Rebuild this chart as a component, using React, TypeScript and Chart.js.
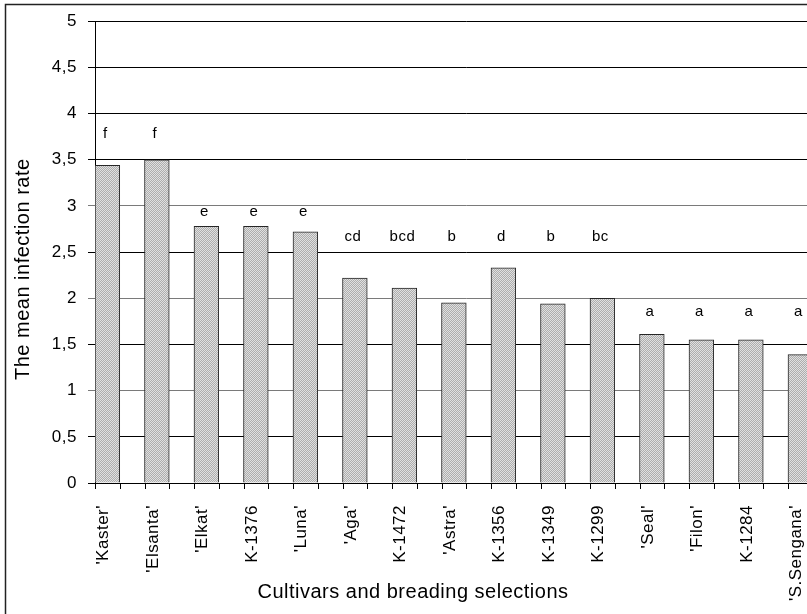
import React, { useEffect, useRef } from "react";
import { Chart, registerables } from "chart.js";

Chart.register(...registerables);

// Cultivars and breeding selections, in plotted order
const cultivars = [
  "'Kaster'",
  "'Elsanta'",
  "'Elkat'",
  "K-1376",
  "'Luna'",
  "'Aga'",
  "K-1472",
  "'Astra'",
  "K-1356",
  "K-1349",
  "K-1299",
  "'Seal'",
  "'Filon'",
  "K-1284",
  "'S.Sengana'",
];

// Mean infection rate per cultivar
const infectionRate = [3.44, 3.5, 2.78, 2.78, 2.72, 2.22, 2.11, 1.95, 2.33, 1.94, 2.0, 1.61, 1.55, 1.55, 1.39];

// Homogeneous-group letters and the level they are printed at
const groupLetters = ["f", "f", "e", "e", "e", "cd", "bcd", "b", "d", "b", "bc", "a", "a", "a", "a"];
const letterLevel = [3.78, 3.78, 2.94, 2.94, 2.94, 2.66, 2.66, 2.66, 2.66, 2.66, 2.66, 1.85, 1.85, 1.85, 1.85];

// Y axis range and step
const yMin = 0;
const yMax = 5;
const yStep = 0.5;

const FONT = "'Liberation Sans', Arial, sans-serif";

// Fine grey hatch used to fill the bars
function makeHatch(): CanvasPattern | string {
  const c = document.createElement("canvas");
  c.width = 4;
  c.height = 4;
  const g = c.getContext("2d");
  if (!g) return "#c6c6c6";
  g.fillStyle = "#e0e0e0";
  g.fillRect(0, 0, 4, 4);
  g.fillStyle = "#adadad";
  for (let y = 0; y < 4; y++) {
    g.fillRect((3 - y + 4) % 4, y, 1, 1);
    g.fillRect((5 - y) % 4, y, 1, 1);
  }
  return g.createPattern(c, "repeat") || "#c6c6c6";
}

// White background and the outer frame
const framePlugin = {
  id: "frame",
  beforeDraw(chart: any) {
    const { ctx, width, height } = chart;
    ctx.save();
    ctx.fillStyle = "#fff";
    ctx.fillRect(0, 0, width, height);
    ctx.strokeStyle = "#222";
    ctx.lineWidth = 1.5;
    ctx.beginPath();
    ctx.moveTo(5.5, height + 2);
    ctx.lineTo(5.5, 4.5);
    ctx.lineTo(width + 2, 4.5);
    ctx.stroke();
    ctx.restore();
    ctx.letterSpacing = "0.5px";
  },
};

// Short tick marks under the category axis, at every half category
const xTickPlugin = {
  id: "xTicks",
  afterDraw(chart: any) {
    const x = chart.scales.x;
    const ctx = chart.ctx;
    const n = chart.data.labels.length;
    const step = (x.right - x.left) / (n * 2);
    ctx.save();
    ctx.strokeStyle = "#000";
    ctx.lineWidth = 1;
    ctx.beginPath();
    for (let k = 0; k <= n * 2; k++) {
      const px = Math.round(x.left + k * step) + 0.5;
      ctx.moveTo(px, x.top);
      ctx.lineTo(px, x.top + 6);
    }
    ctx.stroke();
    ctx.restore();
  },
};

// Group letters above each bar
const letterPlugin = {
  id: "groupLetters",
  afterDatasetsDraw(chart: any) {
    const meta = chart.getDatasetMeta(0);
    const y = chart.scales.y;
    const ctx = chart.ctx;
    ctx.save();
    ctx.fillStyle = "#000";
    ctx.font = `15px ${FONT}`;
    ctx.textAlign = "center";
    ctx.textBaseline = "middle";
    meta.data.forEach((bar: any, i: number) => {
      ctx.fillText(groupLetters[i], bar.x - 2, y.getPixelForValue(letterLevel[i]));
    });
    ctx.restore();
  },
};

// Axis titles
const titlePlugin = {
  id: "axisTitles",
  afterDraw(chart: any) {
    const { ctx, chartArea } = chart;
    ctx.save();
    ctx.fillStyle = "#000";
    ctx.font = `20px ${FONT}`;
    ctx.textAlign = "center";
    ctx.textBaseline = "middle";
    ctx.fillText("Cultivars and breading selections", chartArea.left + 318, chartArea.bottom + 109);
    ctx.translate(23, chartArea.top + 248);
    ctx.rotate(-Math.PI / 2);
    ctx.fillText("The mean infection rate", 0, 0);
    ctx.restore();
  },
};

export default function App() {
  const canvasRef = useRef<HTMLCanvasElement | null>(null);

  useEffect(() => {
    const canvas = canvasRef.current;
    if (!canvas) return;
    const hatch = makeHatch();
    const chart = new Chart(canvas, {
      type: "bar",
      data: {
        labels: cultivars,
        datasets: [
          {
            data: infectionRate,
            backgroundColor: hatch as any,
            borderColor: "#262626",
            borderWidth: 1,
            categoryPercentage: 1,
            barPercentage: 1,
          },
          {
            data: cultivars.map(() => null),
            backgroundColor: "rgba(0,0,0,0)",
            categoryPercentage: 1,
            barPercentage: 1,
          },
        ],
      },
      options: {
        responsive: false,
        animation: false,
        events: [],
        layout: { padding: { left: 5, top: 20, right: 22.5, bottom: 0 } },
        plugins: {
          legend: { display: false },
          tooltip: { enabled: false },
          title: { display: false },
        },
        scales: {
          x: {
            type: "category",
            offset: true,
            grid: { display: false, drawTicks: false },
            border: { display: true, color: "#000", width: 1 },
            ticks: {
              autoSkip: false,
              minRotation: 90,
              maxRotation: 90,
              padding: 22,
              labelOffset: -16,
              color: "#000",
              font: { family: FONT, size: 17 },
            },
            afterFit(scale: any) {
              scale.height = 131;
            },
          },
          y: {
            min: yMin,
            max: yMax,
            grid: {
              color: (c: any) => {
                const v = c.tick ? c.tick.value : 0;
                return v > 0 && v < 4 && Number.isInteger(v) ? "#7a7a7a" : "#000";
              },
              lineWidth: 1,
              tickLength: 7,
              drawTicks: true,
            },
            border: { display: true, color: "#000", width: 1 },
            ticks: {
              stepSize: yStep,
              padding: 11,
              color: "#000",
              font: { family: FONT, size: 17 },
              callback: (v: any) => String(v).replace(".", ","),
            },
            afterFit(scale: any) {
              scale.width = 90;
            },
          },
        },
      },
      plugins: [framePlugin, xTickPlugin, letterPlugin, titlePlugin],
    });
    return () => chart.destroy();
  }, []);

  return (
    <div
      style={{
        position: "fixed",
        left: 0,
        top: 0,
        width: 807,
        height: 614,
        overflow: "hidden",
        background: "#fff",
      }}
    >
      <canvas ref={canvasRef} width={860} height={614} style={{ display: "block" }} />
    </div>
  );
}
